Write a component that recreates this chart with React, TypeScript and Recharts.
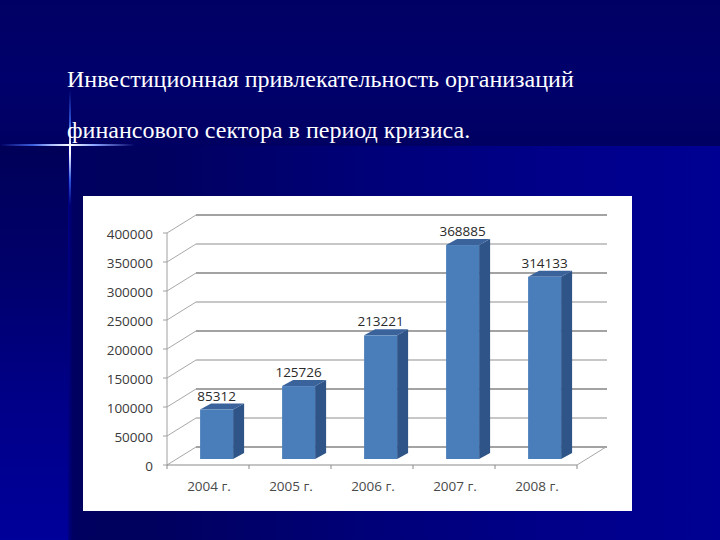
import React from "react";
import { BarChart, Bar, XAxis, YAxis, CartesianGrid, LabelList } from "recharts";

const categories = ["2004 г.", "2005 г.", "2006 г.", "2007 г.", "2008 г."];
const seriesValues = [85312, 125726, 213221, 368885, 314133];
const yTicks = [0, 50000, 100000, 150000, 200000, 250000, 300000, 350000, 400000];
const titleLines = [
  "Инвестиционная привлекательность организаций",
  "финансового сектора в период кризиса.",
];
const data = categories.map((name, i) => ({ name, value: seriesValues[i] }));

const FONT = "'Open Sans', sans-serif";
const DEPTH_X = 29;
const DEPTH_Y = 18;
const BAR_SHIFT_X = 8.5;
const BAR_SHIFT_Y = 6;
const SIDE_X = 11;
const SIDE_Y = 6;
const BAND = 82;

const GridLine = (props: any) => {
  const { x1, x2, y1, index } = props;
  const isBase = Math.abs(y1 - 465) < 1;
  const dark = Math.round((465 - y1) / 29) % 2 === 0;
  const stroke = dark ? "#858585" : "#b4b4b4";
  return (
    <g key={`g-${y1}-${index}`}>
      <line x1={x1} y1={y1} x2={x1 + DEPTH_X} y2={y1 - DEPTH_Y} stroke="#a8a8a8" strokeWidth={1} />
      <line x1={x1 + DEPTH_X} y1={y1 - DEPTH_Y} x2={x2 + DEPTH_X + 1} y2={y1 - DEPTH_Y} stroke={stroke} strokeWidth={dark ? 1.6 : 1.3} />
      {isBase ? <line x1={x2} y1={y1} x2={x2 + DEPTH_X} y2={y1 - DEPTH_Y} stroke="#a8a8a8" strokeWidth={1} /> : null}
    </g>
  );
};

const Bar3D = (props: any) => {
  const { x, y, width, height } = props;
  const l = x + BAR_SHIFT_X;
  const r = l + width;
  const t = y - BAR_SHIFT_Y;
  const b = t + height;
  return (
    <g>
      <polygon points={`${r},${t} ${r + SIDE_X},${t - SIDE_Y} ${r + SIDE_X},${b - SIDE_Y} ${r},${b}`} fill="#2f5487" />
      <polygon points={`${l},${t} ${l + SIDE_X},${t - SIDE_Y} ${r + SIDE_X},${t - SIDE_Y} ${r},${t}`} fill="#3a629b" />
      <rect x={l} y={t} width={width} height={height} fill="#4a7ebb" />
    </g>
  );
};

const ValueLabel = (props: any) => {
  const { x, y, width, value } = props;
  return (
    <text
      x={x + width / 2 + BAR_SHIFT_X}
      y={y - BAR_SHIFT_Y - 9}
      textAnchor="middle"
      fontFamily={FONT}
      fontSize={13.5}
      fill="#2a2a2a"
    >
      {value}
    </text>
  );
};

const ValueTick = (props: any) => {
  const { x, y, payload } = props;
  return (
    <text x={x} y={y + 6} textAnchor="end" fontFamily={FONT} fontSize={13.5} fill="#3a3a3a">
      {payload.value}
    </text>
  );
};

const CategoryTick = (props: any) => {
  const { x, y, payload, index } = props;
  const last = index === categories.length - 1;
  const top = y - 8;
  return (
    <g>
      <line x1={x - BAND / 2} y1={top} x2={x - BAND / 2} y2={top + 4} stroke="#8a8a8a" />
      {last ? <line x1={x + BAND / 2} y1={top} x2={x + BAND / 2} y2={top + 4} stroke="#8a8a8a" /> : null}
      <text x={x + 1} y={top + 26} textAnchor="middle" fontFamily={FONT} fontSize={13.5} fill="#4a4a4a">
        {payload.value}
      </text>
    </g>
  );
};

const abs = (style: React.CSSProperties): React.CSSProperties => ({ position: "absolute", ...style });

export default function App() {
  return (
    <div style={{ position: "fixed", left: 0, top: 0, width: 720, height: 540, overflow: "hidden", background: "#000090" }}>
      <div style={abs({ left: 66, top: 146, width: 654, height: 394, background: "linear-gradient(90deg,#000094 0px,#000060 7px,#00005e 80px,#000078 300px,#00008c 520px,#000092 654px)" })} />
      <div style={abs({ left: 0, top: 146, width: 68, height: 394, background: "linear-gradient(180deg,#000058 0%,#00006a 30%,#000088 65%,#00009a 100%)" })} />
      <div style={abs({ left: 0, top: 0, width: 720, height: 146, background: "linear-gradient(180deg,#000064 0%,#00006c 55%,#000062 100%)" })} />
      <div style={abs({ left: 0, top: 144, width: 135, height: 2, background: "linear-gradient(90deg,rgba(60,90,255,0) 0%,#3f62e0 25%,#a8bcff 38%,#ffffff 52%,#8aa4ff 70%,rgba(60,90,255,0) 100%)" })} />
      <div style={abs({ left: 69, top: 90, width: 2, height: 115, background: "linear-gradient(180deg,rgba(60,90,255,0) 0%,#2f55d8 28%,#ffffff 48%,#ffffff 55%,#2f55d8 78%,rgba(60,90,255,0) 100%)" })} />
      <div style={abs({ left: 83, top: 196, width: 549, height: 315, background: "#ffffff" })} />
      {titleLines.map((line, i) => (
        <div
          key={line}
          style={abs({ left: 67, top: 67 + i * 51, color: "#ffffff", fontFamily: "'Liberation Serif', serif", fontSize: 24, lineHeight: "24px", whiteSpace: "nowrap" })}
        >
          {line}
        </div>
      ))}
      <div style={abs({ left: 0, top: 0 })}>
        <BarChart
          width={720}
          height={540}
          data={data}
          margin={{ left: 107, right: 143, top: 233, bottom: 45 }}
          barCategoryGap="30%"
        >
          <CartesianGrid vertical={false} horizontal={(p: any) => <GridLine {...p} />} />
          <XAxis dataKey="name" height={30} axisLine={{ stroke: "#8a8a8a" }} tickLine={false} tick={(p: any) => <CategoryTick {...p} />} interval={0} />
          <YAxis
            width={60}
            domain={[0, 400000]}
            ticks={yTicks}
            interval={0}
            axisLine={{ stroke: "#a0a0a0" }}
            tickLine={{ stroke: "#a0a0a0" }}
            tickSize={4}
            tickMargin={10}
            tick={(p: any) => <ValueTick {...p} />}
          />
          <Bar dataKey="value" isAnimationActive={false} shape={(p: any) => <Bar3D {...p} />}>
            <LabelList dataKey="value" content={(p: any) => <ValueLabel {...p} />} />
          </Bar>
        </BarChart>
      </div>
    </div>
  );
}
